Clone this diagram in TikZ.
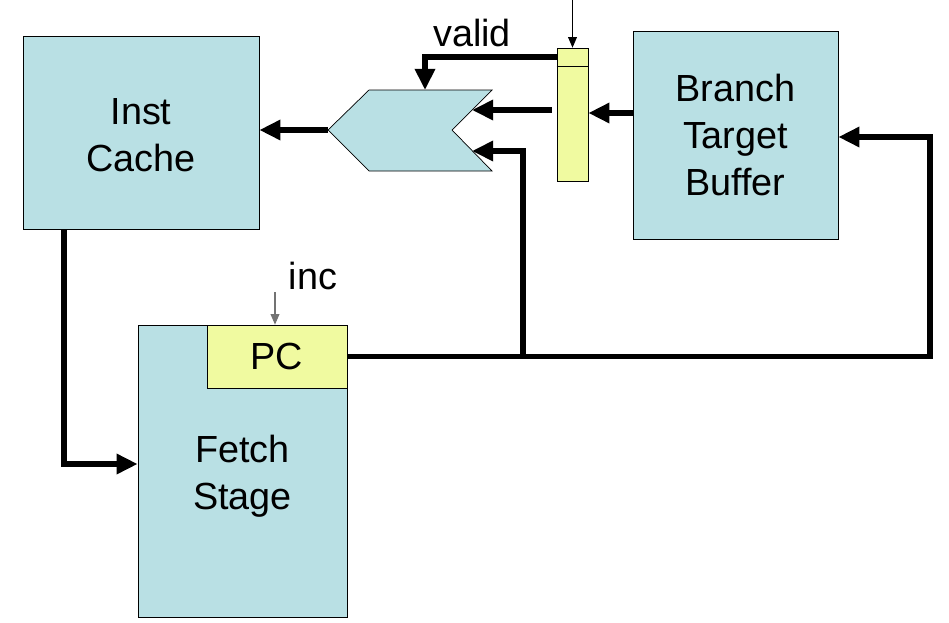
\documentclass[tikz,border=0pt]{standalone}
\usepackage{fontspec}
\setmainfont{Liberation Sans}
\usepackage{tikz}
\usetikzlibrary{positioning}
\usetikzlibrary{shapes,arrows,calc,arrows.meta}

\definecolor{boxblue}{RGB}{185,224,228}
\definecolor{regyellow}{RGB}{240,250,160}

\tikzset{
    block/.style={draw, fill=boxblue, align=center, inner sep=0pt,
        font=\fontsize{21.5}{26.5}\selectfont},
    reg/.style={draw, fill=regyellow, inner sep=0pt},
    bus/.style={line width=3.2pt, line join=miter, -{Triangle[length=12pt,width=11pt]}},
    wire/.style={line width=0.6pt, -{Triangle[length=6pt,width=5pt]}},
    lbl/.style={font=\fontsize{21.5}{26.5}\selectfont}
}

\begin{document}
\begin{tikzpicture}[x=0.02cm, y=-0.02cm]
    \useasboundingbox (0,0) rectangle (949,622); % Picture frame

    % Main blocks
    \node[block, minimum width=4.72cm, minimum height=3.86cm] (cache) at (141,132.5) {};
    \node[block, minimum width=4.18cm, minimum height=5.84cm] (fetch) at (242.5,471) {};
    \node[block, minimum width=4.1cm, minimum height=4.16cm] (btb) at (735.5,135) {Branch\\Target\\Buffer};
    \node[lbl, align=center] (cachetxt) at (141,135) {Inst\\Cache};
    \node[lbl, align=center] (fetchtxt) at (242.5,476) {Fetch\\Stage};

    % Registers
    \node[reg, lbl, minimum width=2.8cm, minimum height=1.26cm] (pc) at (277,356.5) {PC};
    \node[reg, minimum width=0.62cm, minimum height=2.66cm] (btbreg) at (572.5,114.5) {};
    \draw ([yshift=-0.38cm]btbreg.north west) -- ([yshift=-0.38cm]btbreg.north east); % Valid bit field

    % Multiplexer
    \draw[fill=boxblue] (328,130) -- (369,90) -- (492,90) -- (452,130) -- (492,171) -- (369,171) -- cycle;
    \coordinate (muxout) at (328,130); % Output point
    \coordinate (muxsel) at (425,90); % Select input
    \coordinate (muxin1) at (472,110); % Upper data input
    \coordinate (muxin2) at (472,151); % Lower data input

    % Labels
    \node[lbl] (valid) at (472,33) {valid};
    \node[lbl] (inc) at (313,276) {inc};

    % Thin control arrows
    \coordinate (clk) at (572.5,0);
    \draw[wire] (clk) -- (btbreg.north);
    \coordinate (incsrc) at (275,292);
    \draw[wire, black!55] (incsrc) -- (incsrc |- pc.north);

    % Data paths
    \draw[bus] (muxout) -- (cache.east |- muxout);
    \draw[bus] (btbreg.west |- 0,57) -| (muxsel);
    \draw[bus] ([xshift=-0.1cm]btbreg.west |- muxin1) -- (muxin1);
    \draw[bus] (btb.west |- 0,113) -- (btbreg.east |- 0,113);
    \draw[bus] (cache.south -| 64,0) |- (fetch.west |- 0,464);

    % PC feedback
    \coordinate (turn) at (930,137);
    \draw[bus] (pc.east) -| (turn) -- (btb.east |- turn);
    \coordinate (tap) at (pc.east -| 523,0);
    \draw[bus] (tap) |- (muxin2);
\end{tikzpicture}
\end{document}
